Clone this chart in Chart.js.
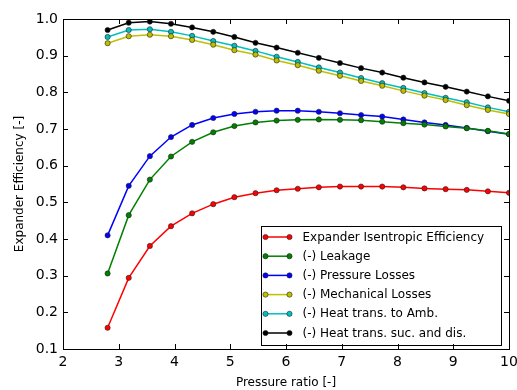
<!DOCTYPE html>
<html>
<head>
<meta charset="utf-8">
<script src="https://cdn.jsdelivr.net/npm/chart.js@4.4.0/dist/chart.umd.min.js"></script>
<style>
    html, body { margin: 0; padding: 0; background: #fff; }
    #wrap { width: 517px; height: 390px; }
</style>
</head>
<body>
<div id="wrap"><canvas id="chart"></canvas></div>
<script>
// --- Data ---
const pressureRatio = [2.8, 3.179, 3.558, 3.937, 4.316, 4.695, 5.074, 5.453, 5.832, 6.211,
                       6.589, 6.968, 7.347, 7.726, 8.105, 8.484, 8.863, 9.242, 9.621, 10.0];

const isentropicEff = [0.158, 0.294, 0.381, 0.435, 0.470, 0.495, 0.514, 0.525, 0.533, 0.537,
                       0.541, 0.543, 0.543, 0.543, 0.541, 0.538, 0.536, 0.534, 0.530, 0.526];
const leakage       = [0.306, 0.465, 0.562, 0.625, 0.665, 0.691, 0.708, 0.718, 0.723, 0.725,
                       0.726, 0.725, 0.724, 0.720, 0.716, 0.712, 0.707, 0.702, 0.695, 0.686];
const pressureLoss  = [0.410, 0.545, 0.626, 0.678, 0.711, 0.730, 0.741, 0.747, 0.750, 0.750,
                       0.747, 0.743, 0.738, 0.734, 0.726, 0.718, 0.711, 0.703, 0.694, 0.686];
const mechLoss      = [0.934, 0.953, 0.957, 0.953, 0.943, 0.930, 0.915, 0.903, 0.887, 0.874,
                       0.859, 0.845, 0.831, 0.818, 0.804, 0.791, 0.779, 0.765, 0.752, 0.741];
const heatAmb       = [0.951, 0.970, 0.972, 0.965, 0.954, 0.940, 0.927, 0.913, 0.897, 0.883,
                       0.868, 0.854, 0.839, 0.825, 0.812, 0.798, 0.785, 0.773, 0.759, 0.747];
const heatSucDis    = [0.970, 0.990, 0.993, 0.987, 0.977, 0.965, 0.951, 0.935, 0.922, 0.908,
                       0.894, 0.880, 0.866, 0.854, 0.840, 0.827, 0.815, 0.802, 0.789, 0.777];

const seriesLabels = [
    'Expander Isentropic Efficiency',
    '(-) Leakage',
    '(-) Pressure Losses',
    '(-) Mechanical Losses',
    '(-) Heat trans. to Amb.',
    '(-) Heat trans. suc. and dis.'
];
const seriesColors = ['#ff0000', '#008000', '#0000ff', '#bfbf00', '#00bfbf', '#000000'];

const xTicks = [2, 3, 4, 5, 6, 7, 8, 9, 10];
const yTicks = [0.1, 0.2, 0.3, 0.4, 0.5, 0.6, 0.7, 0.8, 0.9, 1.0];

const FONT = "'DejaVu Sans', sans-serif";

function makeDataset(label, values, color) {
    return {
        label: label,
        data: pressureRatio.map((x, i) => ({ x: x, y: values[i] })),
        borderColor: color,
        backgroundColor: color,
        borderWidth: 1.5,
        pointRadius: 2.6,
        pointBorderColor: '#222',
        pointBorderWidth: 0.6,
        pointBackgroundColor: color,
        tension: 0,
        fill: false,
        clip: 0
    };
}

// Matplotlib-like frame with inward ticks on all four sides
const framePlugin = {
    id: 'frame',
    afterDraw(chart) {
        const { ctx, chartArea: a, scales } = chart;
        const len = 5;
        ctx.save();
        ctx.strokeStyle = '#000';
        ctx.lineWidth = 1;
        ctx.beginPath();
        xTicks.forEach(v => {
            const px = Math.round(scales.x.getPixelForValue(v)) + 0.5;
            ctx.moveTo(px, a.bottom); ctx.lineTo(px, a.bottom - len);
            ctx.moveTo(px, a.top); ctx.lineTo(px, a.top + len);
        });
        yTicks.forEach(v => {
            const py = Math.round(scales.y.getPixelForValue(v)) + 0.5;
            ctx.moveTo(a.left, py); ctx.lineTo(a.left + len, py);
            ctx.moveTo(a.right, py); ctx.lineTo(a.right - len, py);
        });
        ctx.stroke();
        ctx.strokeRect(Math.round(a.left) + 0.5, Math.round(a.top) + 0.5,
                       Math.round(a.right - a.left), Math.round(a.bottom - a.top));
        ctx.restore();
    }
};

// Legend drawn inside the plot, lower right
const insideLegend = {
    id: 'insideLegend',
    afterDatasetsDraw(chart) {
        const { ctx, chartArea: a } = chart;
        const sets = chart.data.datasets;
        const rowH = 19.2;
        const w = 240, h = 119;
        const left = Math.round(a.right - 8 - w) + 0.5;
        const top = Math.round(a.bottom - 4 - h) + 0.5;
        ctx.save();
        ctx.fillStyle = '#fff';
        ctx.fillRect(left, top, w, h);
        ctx.strokeStyle = '#000';
        ctx.lineWidth = 1;
        ctx.strokeRect(left, top, w, h);
        ctx.font = '12px ' + FONT;
        ctx.textBaseline = 'middle';
        sets.forEach((ds, i) => {
            const y = top + 10.5 + i * rowH;
            const x0 = left + 4, x1 = left + 28;
            ctx.strokeStyle = ds.borderColor;
            ctx.lineWidth = 1.5;
            ctx.beginPath();
            ctx.moveTo(x0, y); ctx.lineTo(x1, y);
            ctx.stroke();
            [x0, x1].forEach(px => {
                ctx.beginPath();
                ctx.arc(px, y, 2.6, 0, Math.PI * 2);
                ctx.fillStyle = ds.pointBackgroundColor;
                ctx.fill();
                ctx.lineWidth = 0.6;
                ctx.strokeStyle = '#222';
                ctx.stroke();
            });
            ctx.fillStyle = '#000';
            ctx.fillText(ds.label, left + 41, y + 0.5);
        });
        ctx.restore();
    }
};

const datasets = [
    makeDataset(seriesLabels[0], isentropicEff, seriesColors[0]),
    makeDataset(seriesLabels[1], leakage, seriesColors[1]),
    makeDataset(seriesLabels[2], pressureLoss, seriesColors[2]),
    makeDataset(seriesLabels[3], mechLoss, seriesColors[3]),
    makeDataset(seriesLabels[4], heatAmb, seriesColors[4]),
    makeDataset(seriesLabels[5], heatSucDis, seriesColors[5])
];

new Chart(document.getElementById('chart'), {
    type: 'line',
    data: { datasets: datasets },
    plugins: [framePlugin, insideLegend],
    options: {
        responsive: true,
        maintainAspectRatio: false,
        animation: false,
        layout: { padding: { left: 0, right: 8, top: 19, bottom: 0 } },
        plugins: { legend: { display: false }, tooltip: { enabled: false } },
        scales: {
            x: {
                type: 'linear',
                min: 2, max: 10,
                afterBuildTicks: s => { s.ticks = xTicks.map(v => ({ value: v })); },
                afterFit: s => { s.height = 41; s.paddingLeft = 0; s.paddingRight = 0; },
                grid: { display: false, drawTicks: false },
                border: { display: false },
                ticks: { color: '#000', font: { family: FONT, size: 14 }, padding: 5, maxRotation: 0,
                         callback: v => String(v) },
                title: { display: true, text: 'Pressure ratio [-]', color: '#000',
                         font: { family: FONT, size: 12 }, padding: { top: 0, bottom: 0 } }
            },
            y: {
                min: 0.1, max: 1.0,
                afterBuildTicks: s => { s.ticks = yTicks.map(v => ({ value: v })); },
                afterFit: s => { s.width = 63; },
                grid: { display: false, drawTicks: false },
                border: { display: false },
                ticks: { color: '#000', font: { family: FONT, size: 14 }, padding: 5,
                         callback: v => Number(v).toFixed(1) },
                title: { display: true, text: 'Expander Efficiency [-]', color: '#000',
                         font: { family: FONT, size: 12 }, padding: { top: 13, bottom: 0 } }
            }
        }
    }
});
</script>
</body>
</html>
